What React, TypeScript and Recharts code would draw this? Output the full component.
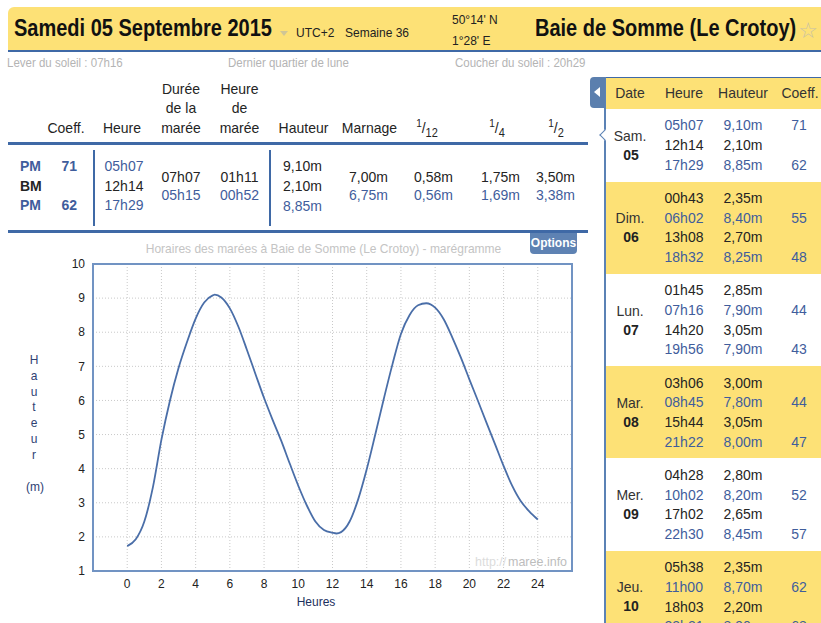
import React from 'react';
import { LineChart, Line, XAxis, YAxis, CartesianGrid, ReferenceArea } from 'recharts';

// marégramme : heure (h) / hauteur (m)
const hours = [0, 0.5, 1, 1.5, 2, 2.5, 3, 3.5, 4, 4.5, 5, 5.12, 5.5, 6, 6.5, 7, 7.5, 8, 8.5, 9, 9.5, 10, 10.5, 11, 11.5, 12, 12.23, 12.5, 13, 13.5, 14, 14.5, 15, 15.5, 16, 16.5, 17, 17.48, 18, 18.5, 19, 19.5, 20, 20.5, 21, 21.5, 22, 22.5, 23, 23.5, 24];
const heights = [1.73, 1.93, 2.45, 3.45, 4.85, 6.0, 6.95, 7.72, 8.4, 8.87, 9.08, 9.1, 9.02, 8.7, 8.16, 7.48, 6.77, 6.07, 5.43, 4.82, 4.15, 3.5, 2.92, 2.45, 2.2, 2.12, 2.1, 2.14, 2.45, 3.1, 3.98, 5.0, 6.05, 7.05, 7.95, 8.5, 8.79, 8.85, 8.72, 8.38, 7.85, 7.26, 6.62, 5.99, 5.35, 4.72, 4.08, 3.5, 3.05, 2.75, 2.51];
const xTicks = [0, 2, 4, 6, 8, 10, 12, 14, 16, 18, 20, 22, 24];
const yTicks = [1, 2, 3, 4, 5, 6, 7, 8, 9, 10];

// tableau du jour
const tideTypes = ['PM', 'BM', 'PM'];
const tideCoeffs = ['71', '', '62'];
const tideTimes = ['05h07', '12h14', '17h29'];
const tideLevels = ['9,10m', '2,10m', '8,85m'];
const durations = ['07h07', '05h15'];
const tideHours = ['01h11', '00h52'];
const ranges = ['7,00m', '6,75m'];
const twelfths = ['0,58m', '0,56m'];
const quarters = ['1,75m', '1,69m'];
const halves = ['3,50m', '3,38m'];

// panneau de droite
const dayNames = ['Sam.', 'Dim.', 'Lun.', 'Mar.', 'Mer.', 'Jeu.'];
const dayNums = ['05', '06', '07', '08', '09', '10'];
const dayTimes = [
  ['05h07', '12h14', '17h29'],
  ['00h43', '06h02', '13h08', '18h32'],
  ['01h45', '07h16', '14h20', '19h56'],
  ['03h06', '08h45', '15h44', '21h22'],
  ['04h28', '10h02', '17h02', '22h30'],
  ['05h38', '11h00', '18h03', '23h21'],
];
const dayLevels = [
  ['9,10m', '2,10m', '8,85m'],
  ['2,35m', '8,40m', '2,70m', '8,25m'],
  ['2,85m', '7,90m', '3,05m', '7,90m'],
  ['3,00m', '7,80m', '3,05m', '8,00m'],
  ['2,80m', '8,20m', '2,65m', '8,45m'],
  ['2,35m', '8,70m', '2,20m', '8,90m'],
];
const dayCoeffs = [
  ['71', '', '62'],
  ['', '55', '', '48'],
  ['', '44', '', '43'],
  ['', '44', '', '47'],
  ['', '52', '', '57'],
  ['', '62', '', '68'],
];

const chartData = hours.map((t, i) => ({ t, h: heights[i] }));

const BLUE = '#3f5d9c';
const DARK = '#242424';
const YEL = '#fde176';
const LINE = '#3f69a6';

function Txt({ x, y, children, align = 'left', size = 14, color = DARK, bold = false, sy = 1.08, style = {} }: any) {
  const tx = align === 'center' ? '-50%' : align === 'right' ? '-100%' : '0';
  return (
    <div style={{ position: 'absolute', left: x, top: y, transform: `translate(${tx},-50%) scaleY(${sy})`, fontSize: size, color, fontWeight: bold ? 'bold' : 'normal', whiteSpace: 'nowrap', lineHeight: 1, ...style }}>
      {children}
    </div>
  );
}

function Box({ x, y, w, h, bg, style = {} }: any) {
  return <div style={{ position: 'absolute', left: x, top: y, width: w, height: h, background: bg, ...style }} />;
}

function Frac({ x, y, den }: any) {
  return (
    <Txt x={x} y={y} align="center">
      <span style={{ fontSize: 10, position: 'relative', top: -6 }}>1</span>
      <span>/</span>
      <span style={{ fontSize: 11, position: 'relative', top: 3 }}>{den}</span>
    </Txt>
  );
}

function RightPanel() {
  const lh = 19.7;
  let top = 109;
  const blocks = dayTimes.map((times, d) => {
    const h = times.length * lh + 13.5;
    const y0 = top;
    top += h;
    const mid = y0 + h / 2;
    return (
      <React.Fragment key={d}>
        <Box x={606} y={y0} w={215} h={h} bg={d % 2 === 0 ? '#fff' : YEL} />
        <Txt x={630} y={mid - 9.5} align="center" color="#333">{dayNames[d]}</Txt>
        <Txt x={631} y={mid + 9.5} align="center" color="#222" bold>{dayNums[d]}</Txt>
        {times.map((tm, i) => {
          const y = y0 + 6.5 + lh * i + lh / 2;
          const pm = dayCoeffs[d][i] !== '';
          const c = pm ? BLUE : DARK;
          return (
            <React.Fragment key={i}>
              <Txt x={684} y={y} align="center" color={c}>{tm}</Txt>
              <Txt x={743} y={y} align="center" color={c}>{dayLevels[d][i]}</Txt>
              <Txt x={799} y={y} align="center" color={BLUE}>{dayCoeffs[d][i]}</Txt>
            </React.Fragment>
          );
        })}
      </React.Fragment>
    );
  });
  return (
    <>
      <Box x={606} y={77} w={215} h={32} bg={YEL} style={{ borderTop: `1px solid ${LINE}`, boxSizing: 'border-box' }} />
      <Txt x={630} y={93} align="center" color="#333">Date</Txt>
      <Txt x={684} y={93} align="center" color="#333">Heure</Txt>
      <Txt x={743} y={93} align="center" color="#333">Hauteur</Txt>
      <Txt x={800} y={93} align="center" color="#333">Coeff.</Txt>
      {blocks}
      <Box x={604} y={77} w={2} h={546} bg="#5b82b5" />
      <Box x={590} y={77} w={15} h={31} bg="#5b7fae" style={{ borderRadius: '4px 0 0 4px' }} />
      <div style={{ position: 'absolute', left: 594, top: 87, width: 0, height: 0, borderTop: '5px solid transparent', borderBottom: '5px solid transparent', borderRight: '6px solid #fff' }} />
      <div style={{ position: 'absolute', left: 601, top: 131, width: 7, height: 7, background: '#fff', borderLeft: '1.5px solid #5b82b5', borderBottom: '1.5px solid #5b82b5', transform: 'rotate(45deg)' }} />
    </>
  );
}

export default function App() {
  const rowY = [166, 186, 205];
  const midY = [177, 195];
  return (
    <div style={{ position: 'absolute', left: 0, top: 0, width: 821, height: 623, overflow: 'hidden', background: '#fff', fontFamily: '"Liberation Sans", Arial, sans-serif' }}>
      {/* bandeau */}
      <Box x={8} y={7} w={813} h={43} bg={YEL} style={{ borderRadius: '6px 0 0 0' }} />
      <Box x={8} y={50} w={813} h={2} bg={LINE} />
      <Txt x={14} y={28} size={20} bold sy={1.15} color="#111">Samedi 05 Septembre 2015</Txt>
      <div style={{ position: 'absolute', left: 280, top: 31, width: 0, height: 0, borderLeft: '4px solid transparent', borderRight: '4px solid transparent', borderTop: '5px solid #cfc596' }} />
      <Txt x={296} y={33} size={12} color="#222">UTC+2</Txt>
      <Txt x={345} y={33} size={12} color="#222">Semaine 36</Txt>
      <Txt x={452} y={20} size={12} color="#222">50°14' N</Txt>
      <Txt x={452} y={41} size={12} color="#222">1°28' E</Txt>
      <Txt x={535} y={28} size={20} bold sy={1.15} color="#111">Baie de Somme (Le Crotoy)</Txt>
      <Txt x={808} y={31} size={22} align="center" sy={1} color="#c9c2a4" style={{ fontFamily: '"DejaVu Sans", sans-serif' }}>☆</Txt>

      <Txt x={7} y={63} size={11.5} color="#b4b4b4">Lever du soleil : 07h16</Txt>
      <Txt x={228} y={63} size={11.5} color="#b4b4b4">Dernier quartier de lune</Txt>
      <Txt x={455} y={63} size={11.5} color="#b4b4b4">Coucher du soleil : 20h29</Txt>

      {/* entêtes du tableau */}
      <Txt x={66} y={128} align="center">Coeff.</Txt>
      <Txt x={122} y={128} align="center">Heure</Txt>
      <Txt x={181} y={89} align="center">Durée</Txt>
      <Txt x={181} y={108} align="center">de la</Txt>
      <Txt x={181} y={128} align="center">marée</Txt>
      <Txt x={239.5} y={89} align="center">Heure</Txt>
      <Txt x={239.5} y={108} align="center">de</Txt>
      <Txt x={239.5} y={128} align="center">marée</Txt>
      <Txt x={303.5} y={128} align="center">Hauteur</Txt>
      <Txt x={369.5} y={128} align="center">Marnage</Txt>
      <Frac x={427} y={128} den="12" />
      <Frac x={497} y={128} den="4" />
      <Frac x={556} y={128} den="2" />
      <Box x={8} y={142} w={580} h={3} bg={LINE} />

      {/* lignes du tableau */}
      {tideTypes.map((tp, i) => (
        <React.Fragment key={i}>
          <Txt x={20} y={rowY[i]} bold color={tp === 'PM' ? BLUE : DARK}>{tp}</Txt>
          <Txt x={77} y={rowY[i]} align="right" bold color={BLUE}>{tideCoeffs[i]}</Txt>
          <Txt x={124} y={rowY[i]} align="center" color={i === 1 ? DARK : BLUE}>{tideTimes[i]}</Txt>
          <Txt x={302.5} y={rowY[i] + (i === 2 ? 1 : 0)} align="center" color={i === 2 ? BLUE : DARK}>{tideLevels[i]}</Txt>
        </React.Fragment>
      ))}
      {[durations, tideHours, ranges, twelfths, quarters, halves].map((col, c) =>
        col.map((v, i) => (
          <Txt key={`${c}-${i}`} x={[181, 239.5, 368.5, 433.5, 500.5, 555.5][c]} y={midY[i]} align="center" color={i === 0 ? DARK : BLUE}>{v}</Txt>
        ))
      )}
      <Box x={93} y={150} w={2} h={76} bg={LINE} />
      <Box x={269} y={150} w={2} h={76} bg={LINE} />
      <Box x={8} y={230} w={580} h={3} bg={LINE} />

      {/* graphique */}
      <Txt x={323.5} y={249} size={12} align="center" color="#c4c4c4">Horaires des marées à Baie de Somme (Le Crotoy) - marégramme</Txt>
      <div style={{ position: 'absolute', left: 530, top: 233, width: 47, height: 21, background: '#5e82b3', borderRadius: '0 0 4px 4px', color: '#fff', fontSize: 12, fontWeight: 'bold', lineHeight: '21px', textAlign: 'center' }}>Options</div>
      {['H', 'a', 'u', 't', 'e', 'u', 'r'].map((ch, i) => (
        <Txt key={i} x={34} y={360 + i * 15.8} size={12} align="center" color="#2f4274">{ch}</Txt>
      ))}
      <Txt x={35} y={487} size={12} align="center" color="#2f4274">(m)</Txt>

      <div style={{ position: 'absolute', left: 0, top: 255 }}>
        <LineChart width={600} height={360} data={chartData} margin={{ top: 9, right: 28, left: 0, bottom: 0 }}>
          <CartesianGrid stroke="#c9c9c9" strokeDasharray="1 2" />
          <XAxis type="number" dataKey="t" domain={[-2, 26]} ticks={xTicks} interval={0} axisLine={false} tickLine={false} height={44} tick={{ fontSize: 12, fill: '#222' }} allowDataOverflow />
          <YAxis type="number" domain={[1, 10]} ticks={yTicks} interval={0} axisLine={false} tickLine={false} width={93} tick={{ fontSize: 12, fill: '#222' }} allowDataOverflow />
          <ReferenceArea x1={-2} x2={26} y1={1} y2={10} fill="none" stroke="#7193c3" strokeWidth={2} />
          <Line type="monotone" dataKey="h" stroke="#4a6ea8" strokeWidth={1.8} dot={false} isAnimationActive={false} />
        </LineChart>
      </div>

      <Txt x={475} y={562} size={12.5} color="#dcdcdc">http://</Txt>
      <Txt x={508} y={562} size={12.5} color="#bdbdbd">maree.info</Txt>
      <Txt x={316} y={602} size={12} align="center" color="#1c2f5e">Heures</Txt>

      <RightPanel />
    </div>
  );
}
